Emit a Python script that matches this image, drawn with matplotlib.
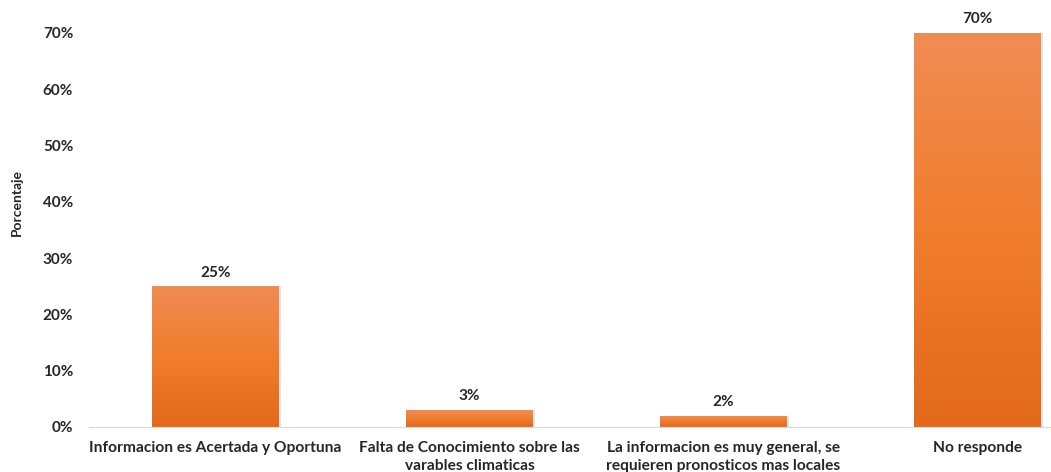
import numpy as np
import matplotlib.pyplot as plt
from matplotlib.colors import LinearSegmentedColormap
from matplotlib.ticker import PercentFormatter

plt.rcParams['font.family'] = ['Lato', 'DejaVu Sans']

categorias = ['Informacion es Acertada y Oportuna',
              'Falta de Conocimiento sobre las\nvarables climaticas',
              'La informacion es muy general, se\nrequieren pronosticos mas locales',
              'No responde']
valores = [0.25, 0.03, 0.02, 0.70]
ticks_y = [0, 0.1, 0.2, 0.3, 0.4, 0.5, 0.6, 0.7]

# degradado naranja: claro arriba, oscuro abajo
cmap = LinearSegmentedColormap.from_list('naranja', ['#E2691A', '#F17D2C', '#F08C55'])

fig = plt.figure(figsize=(10.51, 4.72), dpi=100)
ax = fig.add_axes([88.5 / 1051, 45 / 472, 1016 / 1051, 394 / 472])

x = np.arange(len(categorias))
ancho = 0.5
barras = ax.bar(x, valores, ancho, color='none', edgecolor='none', zorder=2)

grad = np.linspace(0, 1, 256).reshape(-1, 1)
for b, v in zip(barras, valores):
    x0 = b.get_x()
    # sombra leve a la derecha
    ax.bar(x0 + ancho / 2 + 0.008, v, ancho, color='#c8c8c8', alpha=0.5, zorder=1)
    im = ax.imshow(grad, cmap=cmap, aspect='auto', origin='lower',
                   extent=[x0, x0 + ancho, 0, v], zorder=3)
    im.set_clip_path(b)
    ax.text(x0 + ancho / 2, v + 0.012, f'{v:.0%}', ha='center', va='bottom',
            fontsize=11, fontweight='bold', color='#262626')

ax.set_xlim(-0.5, len(categorias) - 0.5)
ax.set_ylim(0, 0.7)
ax.set_yticks(ticks_y)
ax.yaxis.set_major_formatter(PercentFormatter(1.0, decimals=0))
ax.set_xticks(x)
ax.set_xticklabels(categorias, fontsize=11.2, fontweight='bold', color='#262626',
                   linespacing=1.35)
for t in ax.get_yticklabels():
    t.set_fontsize(11)
    t.set_fontweight('bold')
    t.set_color('#262626')
ax.tick_params(axis='both', length=0)
ax.tick_params(axis='x', pad=10)
ax.tick_params(axis='y', pad=11)

for s in ['top', 'right', 'left']:
    ax.spines[s].set_visible(False)
ax.spines['bottom'].set_color('#d9d9d9')
ax.spines['bottom'].set_zorder(4)

fig.text(17 / 1051, 1 - 202 / 472, 'Porcentaje', rotation=90, ha='center', va='center',
         fontsize=10, fontweight='bold', color='#262626')

fig.savefig('out.png', dpi=100)
